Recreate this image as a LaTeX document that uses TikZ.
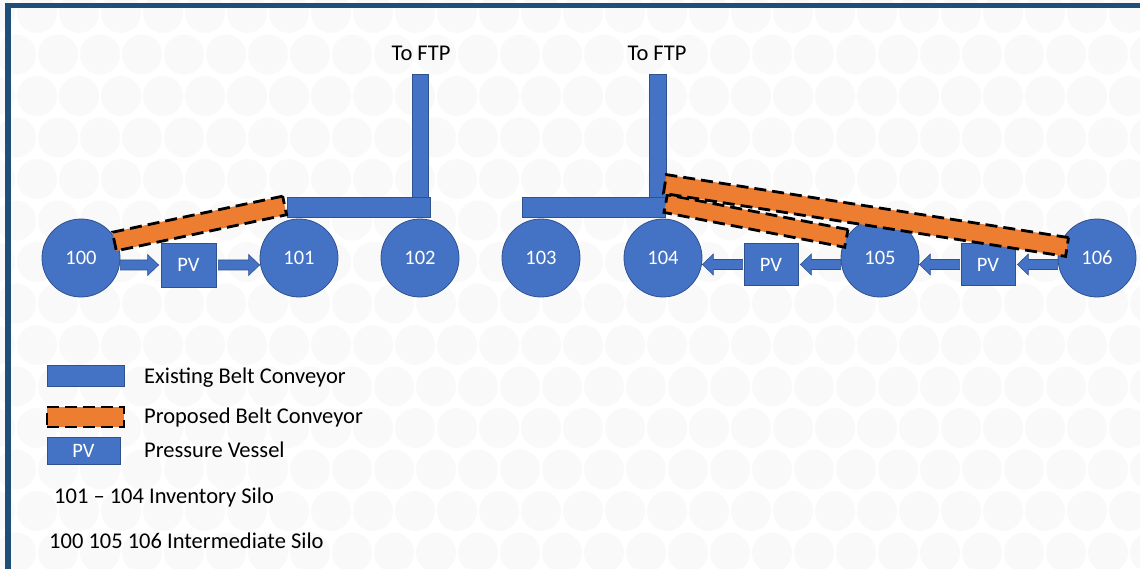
\documentclass[tikz,border=0pt]{standalone}
\usepackage{fontspec}
\setmainfont{Carlito}
\usetikzlibrary{calc}
\definecolor{cblue}{HTML}{4472C4}
\definecolor{cblueline}{HTML}{2F528F}
\definecolor{corange}{HTML}{ED7D31}
\definecolor{cframe}{HTML}{1F4E79}
\definecolor{cdot}{HTML}{F9F9F9}
\newcommand{\blockarr}[2]{%
  \draw[blockarrow] let \p1=(#1), \p2=(#2), \n1={sign(\x2-\x1)} in
  (\x1,{\y1+5pt}) -- ({\x2-\n1*11pt},{\y1+5pt}) -- ({\x2-\n1*11pt},{\y1+10.5pt})
  -- (\x2,\y1) -- ({\x2-\n1*11pt},{\y1-10.5pt}) -- ({\x2-\n1*11pt},{\y1-5pt})
  -- (\x1,{\y1-5pt}) -- cycle;}
\begin{document}
\begin{tikzpicture}[x=1pt,y=-1pt,
  silo/.style={circle, fill=cblue, draw=cblueline, line width=0.8pt, minimum size=78pt, inner sep=0pt, text=white, font=\fontsize{20.5}{24}\selectfont},
  pvbox/.style={rectangle, fill=cblue, draw=cblueline, line width=0.8pt, minimum width=54pt, minimum height=42pt, inner sep=0pt, text=white, font=\fontsize{20.5}{24}\selectfont},
  belt/.style={rectangle, fill=cblue, draw=cblueline, line width=0.8pt, inner sep=0pt},
  newbelt/.style={rectangle, fill=corange, draw=black, line width=2.8pt, dash pattern=on 12pt off 6pt, inner sep=0pt},
  lbl/.style={font=\fontsize{22.5}{27}\selectfont, text=black, inner sep=0pt},
  blockarrow/.style={fill=cblue, draw=cblueline, line width=0.6pt}
]
\useasboundingbox (0,0) rectangle (1140,569);
\fill[white] (0,0) rectangle (1140,569);
% background pattern
\begin{scope}
\clip (0,0) rectangle (1140,569);
\foreach \k in {0,...,14}{
  \foreach \j in {-1,...,28}{
    \pgfmathsetmacro{\cx}{mod(\k,2)==0 ? 37+42*\j : 16+42*\j}
    \pgfmathsetmacro{\cy}{13+41.5*\k}
    \fill[cdot] (\cx,\cy) circle (20);
  }
}
\end{scope}
% frame
\fill[cframe] (5,3) rectangle (1140,8.5);
\fill[cframe] (5,3) rectangle (10.5,569);

% existing conveyors
\node[belt, minimum width=16pt, minimum height=123pt] (b1v) at (420,135.5) {};
\node[belt, minimum width=143pt, minimum height=20pt] (b1h) at (358.5,207) {};
\node[belt, minimum width=17pt, minimum height=123pt] (b2v) at (657.5,135.5) {};
\node[belt, minimum width=143pt, minimum height=20pt] (b2h) at (593.5,207) {};
\node[lbl, anchor=base] (ftp1) at (421,61) {To FTP};
\node[lbl, anchor=base] (ftp2) at (657,61) {To FTP};

% silos
\node[silo] (s100) at (81,258) {100};
\node[silo] (s101) at (299,258) {101};
\node[silo] (s102) at (420,258) {102};
\node[silo] (s103) at (541,258) {103};
\node[silo] (s104) at (663,258) {104};
\node[silo] (s105) at (880,258) {105};
\node[silo] (s106) at (1097,258) {106};

% pressure vessels
\node[pvbox, minimum width=55pt, minimum height=44pt] (pv1) at (188.5,265) {PV};
\node[pvbox] (pv2) at (771,264.5) {PV};
\node[pvbox] (pv3) at (988,264.5) {PV};

% block arrows
\blockarr{s100.east |- pv1.west}{$(pv1.west)+(-2,0)$}
\blockarr{$(pv1.east)+(2,0)$}{s101.west |- pv1.east}
\blockarr{$(pv2.west)+(-1,0)$}{s104.east |- pv2.west}
\blockarr{s105.west |- pv2.east}{$(pv2.east)+(2,0)$}
\blockarr{$(pv3.west)+(-1,0)$}{s105.east |- pv3.west}
\blockarr{s106.west |- pv3.east}{$(pv3.east)+(2,0)$}

% proposed conveyors
\node[newbelt, minimum width=174pt, minimum height=19pt, rotate=11.96] (c1) at (199.5,223.5) {};
\node[newbelt, minimum width=184pt, minimum height=18pt, rotate=-10.9] (c3) at (756,221) {};
\node[newbelt, minimum width=407pt, minimum height=19pt, rotate=-8.9] (c2) at (866,215.5) {};

% legend
\node[belt, minimum width=77pt, minimum height=21pt] (lg1) at (85.5,375.5) {};
\node[newbelt, minimum width=77pt, minimum height=20pt] (lg2) at (85.5,417) {};
\node[pvbox, minimum width=73pt, minimum height=27pt] (lg3) at (83.5,450.5) {PV};
\node[lbl, anchor=base west] (t1) at (144,383) {Existing Belt Conveyor};
\node[lbl, anchor=base west] (t2) at (144,423) {Proposed Belt Conveyor};
\node[lbl, anchor=base west] (t3) at (144,457) {Pressure Vessel};
\node[lbl, anchor=base west] (t4) at (54,503) {101 – 104 Inventory Silo};
\node[lbl, anchor=base west] (t5) at (49,548) {100 105 106 Intermediate Silo};
\end{tikzpicture}
\end{document}
